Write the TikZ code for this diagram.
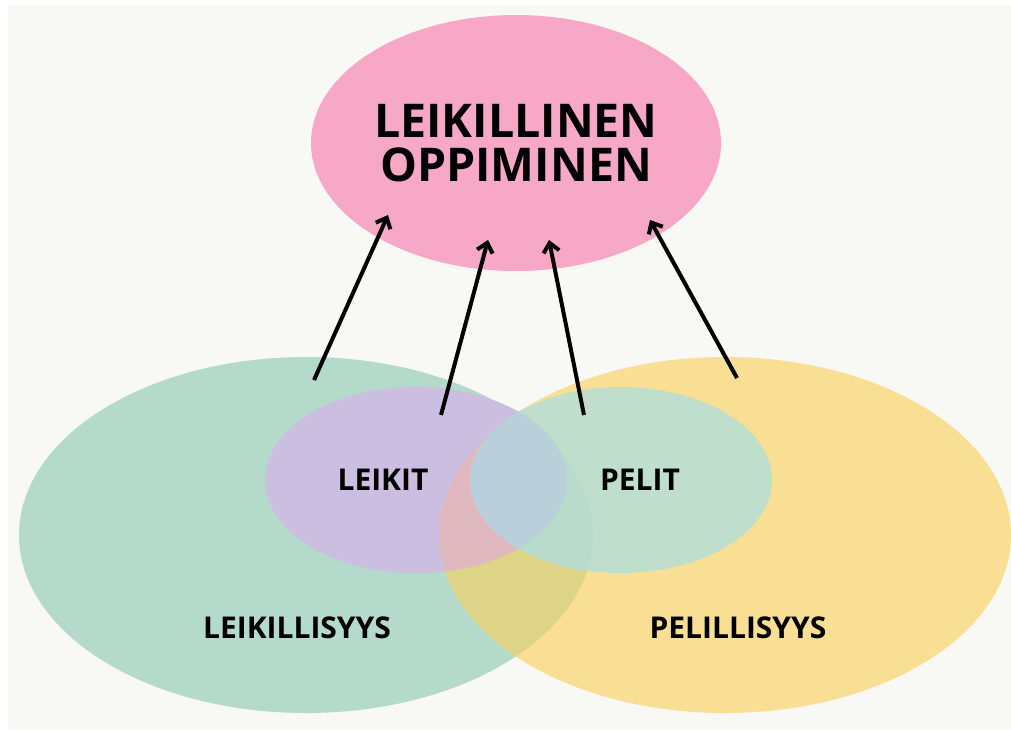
\documentclass[tikz,border=0pt]{standalone}
\usepackage{fontspec}
\setmainfont{Open Sans}
\usetikzlibrary{shapes.geometric,arrows.meta}
\definecolor{bgfill}{HTML}{F8F8F4}
\definecolor{pinkfill}{HTML}{F7A8C6}
\definecolor{greenfill}{HTML}{B3DACB}
\definecolor{yellowfill}{HTML}{F9DF94}
\definecolor{greenyellow}{HTML}{DED488}
\definecolor{purplefill}{HTML}{CCBEE0}
\definecolor{purpleyellow}{HTML}{E0B9C0}
\definecolor{smallfill}{HTML}{C0DECC}
\definecolor{smallgreen}{HTML}{B8DBCC}
\definecolor{smallpurple}{HTML}{B9CFD9}
\tikzset{
  label/.style={font=\bfseries\fontsize{30}{33}\selectfont,text=black},
  arr/.style={line width=4pt,-{Straight Barb[length=9pt,width=16pt]}}
}
\begin{document}
\begin{tikzpicture}[x=1pt,y=-1pt]
        \useasboundingbox (0,0) rectangle (1011,729);
        \fill[white] (0,0) rectangle (1011,729);
        \fill[bgfill] (8,5) rectangle (1011,729);
        \fill[greenfill] (306,535) ellipse [x radius=287pt,y radius=178pt];
        \fill[yellowfill] (725,535) ellipse [x radius=286pt,y radius=178pt];
        \begin{scope}
          \clip (306,535) ellipse [x radius=287pt,y radius=178pt];
          \fill[greenyellow] (725,535) ellipse [x radius=286pt,y radius=178pt];
        \end{scope}
        \fill[purplefill] (416,480) ellipse [x radius=151pt,y radius=93pt];
        \begin{scope}
          \clip (725,535) ellipse [x radius=286pt,y radius=178pt];
          \fill[purpleyellow] (416,480) ellipse [x radius=151pt,y radius=93pt];
        \end{scope}
        \fill[smallfill] (621,480) ellipse [x radius=151pt,y radius=93pt];
        \begin{scope}
          \clip (306,535) ellipse [x radius=287pt,y radius=178pt];
          \fill[smallgreen] (621,480) ellipse [x radius=151pt,y radius=93pt];
        \end{scope}
        \begin{scope}
          \clip (416,480) ellipse [x radius=151pt,y radius=93pt];
          \fill[smallpurple] (621,480) ellipse [x radius=151pt,y radius=93pt];
        \end{scope}
        \node (oppiminen) [ellipse,fill=pinkfill,minimum width=410pt,minimum height=256pt,inner sep=0pt,
          align=center,font=\bfseries\fontsize{46.5}{44}\selectfont] at (516,143) {LEIKILLINEN\\OPPIMINEN};
        \node (leikit) [label] at (383,480) {LEIKIT};
        \node (pelit) [label] at (640,480) {PELIT};
        \node (leikillisyys) [label] at (297,628) {LEIKILLISYYS};
        \node (pelillisyys) [label] at (738,628) {PELILLISYYS};
        \coordinate (A1) at (314,380);
        \coordinate (A2) at (441,415);
        \coordinate (A3) at (584,415);
        \coordinate (A4) at (737,378);
        \coordinate (B1) at (388,215);
        \coordinate (B2) at (488,240);
        \coordinate (B3) at (549,240);
        \coordinate (B4) at (650,220);
        \draw [arr] (A1) -- (B1);
        \draw [arr] (A2) -- (B2);
        \draw [arr] (A3) -- (B3);
        \draw [arr] (A4) -- (B4);
    \end{tikzpicture}
\end{document}
